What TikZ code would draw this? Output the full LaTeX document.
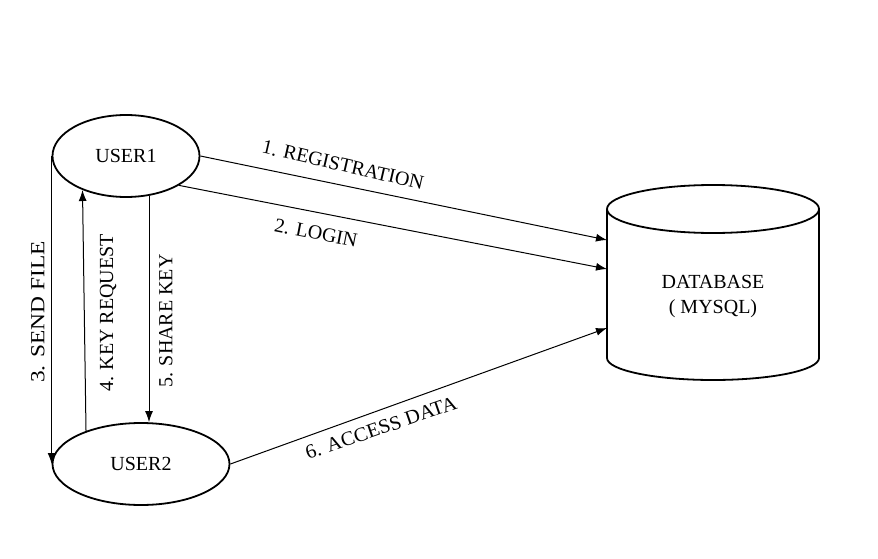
\documentclass[tikz,border=0pt]{standalone}
\usepackage{fontspec}
\setmainfont{Liberation Serif}
\usepackage{graphicx}
\usetikzlibrary{shapes.geometric,arrows.meta}
\begin{document}
\begin{tikzpicture}[x=1pt,y=-1pt,
  every node/.style={font=\fontsize{20}{23}\selectfont},
  userbox/.style={ellipse,draw,line width=1.8pt,inner sep=0pt,minimum height=82pt},
  conn/.style={line width=1pt,-{Latex[length=11pt,width=8pt]}},
  lbl/.style={inner sep=0pt}]
\useasboundingbox[fill=white] (0,0) rectangle (878,559);
\node[userbox,minimum width=147pt] (u1) at (126,156) {USER1};
\node[userbox,minimum width=177pt] (u2) at (141,464) {USER2};
% database cylinder
\draw[line width=1.8pt] (607,209) -- (607,358) arc[start angle=180,end angle=0,x radius=106,y radius=22] -- (819,209);
\draw[line width=1.8pt] (713,209) ellipse[x radius=106,y radius=24];
\node[lbl,align=center] (db) at (713,297) {DATABASE\\[2pt]( MYSQL)};
\coordinate (db1) at (607,240);
\coordinate (db2) at (607,269);
\coordinate (db3) at (607,328);
% connectors
\draw[conn] (u1.east) -- (db1);
\draw[conn] (u1.-29) -- (db2);
\draw[conn] (u2.east) -- (db3);
\draw[conn] (u1.west) -- (u2.west);
\draw[conn] (u2.149) -- (u1.218);
\draw[conn] (u1.-60) -- (u1.-60 |- u2.north);
% labels
\node[lbl,rotate=-13] (l1) at (343,165) {1. REGISTRATION};
\node[lbl,rotate=-11] (l2) at (316,233) {2. LOGIN};
\node[lbl,rotate=19] (l6) at (381,428) {\scalebox{1.03}[1]{6. ACCESS DATA}};
\node[lbl,rotate=90] (l3) at (38,312) {\scalebox{1.17}[1]{3. SEND FILE}};
\node[lbl,rotate=90] (l4) at (108,313) {4. KEY REQUEST};
\node[lbl,rotate=90] (l5) at (166,321) {5. SHARE KEY};
\end{tikzpicture}
\end{document}
